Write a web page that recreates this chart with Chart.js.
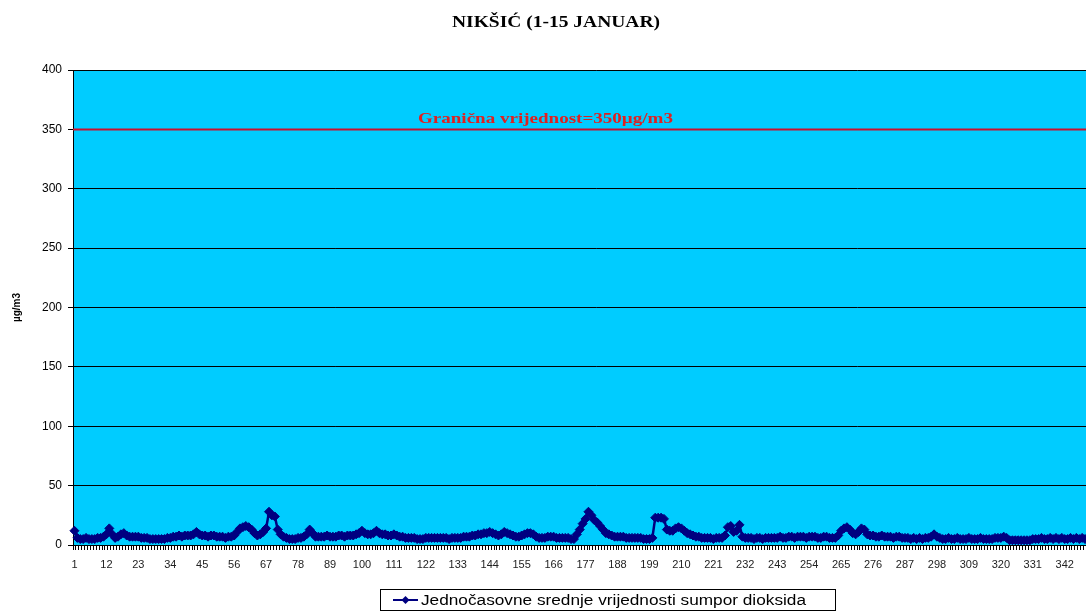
<!DOCTYPE html>
<html>
<head>
<meta charset="utf-8">
<script src="https://cdn.jsdelivr.net/npm/chart.js@4"></script>
<style>
  body { margin: 0; overflow: hidden; background: #fff; }
  canvas { display: block; }
</style>
</head>
<body>
<canvas id="chart" width="1125" height="611"></canvas>
<script>
// hourly values, 1-15 January (15 x 24 = 360 hours)
const hours = [];
for (let i = 1; i <= 360; i++) hours.push(String(i));

// SO2 hourly means, ug/m3 (the last hours fall outside the crop)
const so2 = [
  12, 6, 5, 5, 6, 5, 5, 5, 6, 6,
  7, 9, 14, 9, 6, 7, 9, 10, 8, 7,
  7, 7, 7, 6, 6, 6, 5, 5, 5, 5,
  5, 5, 6, 6, 7, 7, 8, 7, 8, 8,
  8, 9, 11, 9, 8, 8, 7, 8, 8, 7,
  7, 7, 6, 7, 7, 8, 11, 14, 15, 16,
  15, 13, 10, 8, 9, 11, 14, 28, 25, 24,
  13, 9, 7, 6, 5, 5, 5, 6, 6, 7,
  9, 13, 10, 7, 7, 7, 7, 8, 7, 7,
  7, 8, 8, 7, 8, 8, 8, 9, 10, 12,
  10, 9, 9, 10, 12, 10, 9, 9, 8, 8,
  9, 8, 7, 7, 6, 6, 6, 6, 5, 5,
  5, 6, 6, 6, 6, 6, 6, 6, 6, 5,
  6, 6, 6, 6, 7, 7, 7, 8, 8, 9,
  9, 10, 10, 11, 10, 9, 8, 9, 11, 10,
  9, 8, 7, 7, 8, 9, 10, 10, 9, 7,
  6, 6, 6, 7, 7, 7, 6, 6, 6, 6,
  6, 5, 5, 9, 13, 18, 22, 28, 25, 21,
  19, 16, 13, 10, 9, 8, 7, 7, 7, 7,
  6, 6, 6, 6, 6, 6, 5, 5, 5, 6,
  23, 23, 23, 22, 13, 12, 12, 14, 15, 14,
  12, 10, 9, 8, 7, 7, 6, 6, 6, 6,
  5, 6, 6, 6, 8, 15, 16, 11, 12, 17,
  7, 6, 6, 6, 5, 6, 6, 5, 6, 6,
  6, 6, 6, 7, 6, 6, 7, 7, 6, 7,
  7, 7, 6, 7, 7, 7, 6, 6, 7, 7,
  6, 6, 6, 8, 12, 14, 15, 13, 10, 9,
  11, 14, 13, 9, 8, 8, 7, 7, 8, 7,
  7, 7, 6, 7, 7, 6, 6, 6, 5, 6,
  5, 6, 5, 6, 6, 7, 9, 7, 6, 5,
  5, 6, 5, 5, 6, 5, 5, 5, 6, 5,
  5, 5, 6, 5, 5, 5, 5, 6, 6, 6,
  7, 6, 4, 4, 4, 4, 4, 4, 4, 4,
  5, 5, 5, 6, 5, 5, 6, 5, 6, 5,
  6, 5, 5, 6, 5, 6, 5, 6, 5, 5,
  null, null, null, null, null, null, null, null, null, null
];

const LIMIT = 350;
const limitText = 'Granična vrijednost=350µg/m3';
const titleText = 'NIKŠIĆ (1-15 JANUAR)';
const seriesName = 'Jednočasovne srednje vrijednosti sumpor dioksida';

const NAVY = '#000080';

// draw text stretched sideways to a given width (the old Excel export is wide)
function wideText(ctx, text, x, y, width, align) {
  const w = ctx.measureText(text).width;
  const k = width / w;
  ctx.save();
  ctx.textAlign = 'left';
  const left = align === 'center' ? x - width / 2 : x;
  ctx.translate(left, y);
  ctx.scale(k, 1);
  ctx.fillText(text, 0, 0);
  ctx.restore();
}

const plotBg = {
  id: 'plotBg',
  beforeDraw(chart) {
    const { ctx, chartArea: a } = chart;
    ctx.save();
    ctx.fillStyle = '#00ccff';
    ctx.fillRect(a.left, a.top, a.right - a.left, a.bottom - a.top);
    ctx.restore();
  }
};

const limitLine = {
  id: 'limitLine',
  afterDatasetsDraw(chart) {
    const { ctx, chartArea: a } = chart;
    const y = chart.scales.y.getPixelForValue(LIMIT);
    ctx.save();
    ctx.strokeStyle = '#c8102e';
    ctx.lineWidth = 2;
    ctx.beginPath();
    ctx.moveTo(a.left, y);
    ctx.lineTo(a.right, y);
    ctx.stroke();
    ctx.fillStyle = '#e02020';
    ctx.font = 'bold 15px "Liberation Serif", "Times New Roman", serif';
    ctx.textBaseline = 'alphabetic';
    wideText(ctx, limitText, 545.5, y - 6, 255, 'center');
    ctx.restore();
  }
};

const titleAndLegend = {
  id: 'titleAndLegend',
  afterDraw(chart) {
    const ctx = chart.ctx;
    ctx.save();
    ctx.fillStyle = '#000';
    ctx.font = 'bold 16px "Liberation Serif", "Times New Roman", serif';
    ctx.textBaseline = 'middle';
    wideText(ctx, titleText, 556, 23, 208, 'center');

    // legend box
    ctx.fillStyle = '#fff';
    ctx.fillRect(380.5, 589.5, 455, 21);
    ctx.strokeStyle = '#000';
    ctx.lineWidth = 1;
    ctx.strokeRect(380.5, 589.5, 455, 21);
    ctx.strokeStyle = NAVY;
    ctx.lineWidth = 2;
    ctx.beginPath();
    ctx.moveTo(393, 600);
    ctx.lineTo(418, 600);
    ctx.stroke();
    ctx.fillStyle = NAVY;
    ctx.beginPath();
    ctx.moveTo(405.5, 596);
    ctx.lineTo(409.5, 600);
    ctx.lineTo(405.5, 604);
    ctx.lineTo(401.5, 600);
    ctx.closePath();
    ctx.fill();
    ctx.fillStyle = '#000';
    ctx.font = '14px "Liberation Sans", Arial, sans-serif';
    wideText(ctx, seriesName, 421, 601, 385, 'left');
    ctx.restore();
  }
};

new Chart(document.getElementById('chart'), {
  type: 'line',
  data: {
    labels: hours,
    datasets: [{
      label: seriesName,
      data: so2,
      borderColor: NAVY,
      backgroundColor: NAVY,
      borderWidth: 2.5,
      pointStyle: 'rectRot',
      pointRadius: 4.5,
      pointBorderWidth: 1,
      tension: 0
    }]
  },
  options: {
    responsive: false,
    animation: false,
    layout: { padding: { left: 0, right: 4, top: 70, bottom: 36 } },
    plugins: {
      legend: { display: false },
      title: { display: false },
      tooltip: { enabled: false }
    },
    scales: {
      x: {
        offset: true,
        grid: { offset: true, drawOnChartArea: false, drawTicks: true, tickLength: 5, color: '#000' },
        border: { color: '#000', width: 1 },
        ticks: {
          autoSkip: false,
          maxRotation: 0,
          minRotation: 0,
          padding: 8,
          color: '#222',
          font: { family: '"Liberation Sans", Arial, sans-serif', size: 11 },
          callback: (v, i) => (i % 11 === 0 ? hours[i] : '')
        },
        afterFit(s) { s.height = 30; }
      },
      y: {
        min: 0,
        max: 400,
        ticks: {
          stepSize: 50,
          padding: 6,
          color: '#000',
          font: { family: '"Liberation Sans", Arial, sans-serif', size: 12 }
        },
        grid: { color: '#000', tickLength: 5 },
        border: { color: '#000', width: 1 },
        title: {
          display: true,
          text: 'µg/m3',
          color: '#000',
          padding: 11,
          font: { family: '"Liberation Sans", Arial, sans-serif', size: 10, weight: 'bold' }
        },
        afterFit(s) { s.width = 73; }
      }
    }
  },
  plugins: [plotBg, limitLine, titleAndLegend]
});
</script>
</body>
</html>
